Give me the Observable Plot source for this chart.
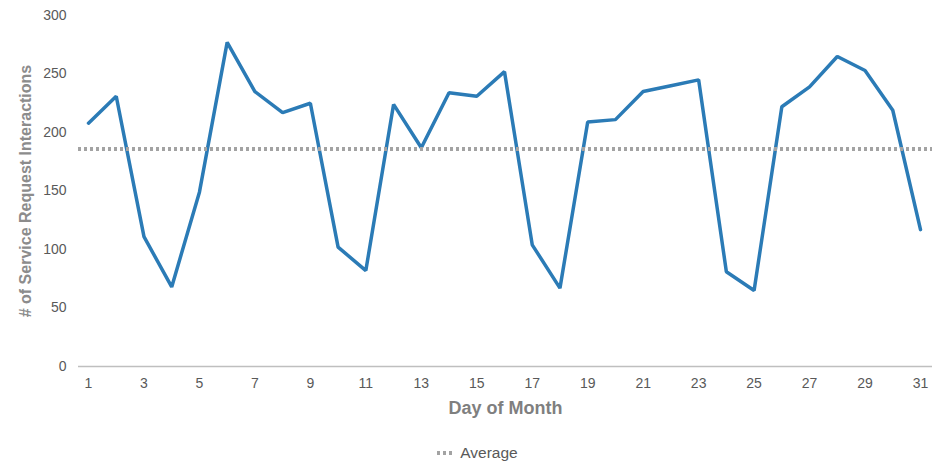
<!DOCTYPE html>
<html>
<head>
<meta charset="utf-8">
<script src="https://cdn.jsdelivr.net/npm/d3@7"></script>
<script src="https://cdn.jsdelivr.net/npm/@observablehq/plot@0.6"></script>
<style>
  body { margin: 0; background: #fff; font-family: "Liberation Sans", Arial, sans-serif; }
  #chart { width: 945px; }
  .legend { display: flex; justify-content: center; align-items: center; gap: 7px; margin-top: 12px; margin-left: 10px; font-size: 15.5px; color: #595959; }
</style>
</head>
<body>
<div id="chart"></div>
<script>
const days = d3.range(1, 32);
const interactions = [208, 231, 111, 68, 149, 277, 235, 217, 225, 102, 82, 224, 187, 234, 231, 252, 104, 67, 209, 211, 235, 240, 245, 81, 65, 222, 239, 265, 253, 219, 117];
const averageValue = 186;
const xTicks = [1, 3, 5, 7, 9, 11, 13, 15, 17, 19, 21, 23, 25, 27, 29, 31];
const yTicks = [0, 50, 100, 150, 200, 250, 300];

const data = days.map((d, i) => ({ day: d, value: interactions[i] }));

const chart = Plot.plot({
  width: 945,
  height: 432,
  marginLeft: 78,
  marginRight: 13,
  marginTop: 15,
  marginBottom: 66,
  style: { fontFamily: "Liberation Sans, Arial, sans-serif", fontSize: "14px", color: "#595959" },
  x: { domain: [1, 31], ticks: xTicks, tickSize: 0, tickPadding: 12, label: null, tickFormat: d => d },
  y: { domain: [0, 300], ticks: yTicks, tickSize: 0, tickPadding: 12, label: null },
  marks: [
    Plot.axisX({ ticks: xTicks, tickSize: 0, tickPadding: 12, label: null, fontSize: 14, fill: "#595959" }),
    Plot.axisY({ ticks: yTicks, tickSize: 0, tickPadding: 12, label: null, fontSize: 14, fill: "#595959" }),
    Plot.ruleY([0], { stroke: "#bfbfbf", strokeWidth: 1.5 }),
    Plot.line(data, { x: "day", y: "value", stroke: "#2b7bb6", strokeWidth: 3.5, strokeLinejoin: "miter", curve: "linear" }),
    Plot.ruleY([averageValue], { stroke: "#a3a3a3", strokeWidth: 4, strokeDasharray: "3,3" }),
    Plot.text(["Day of Month"], { frameAnchor: "bottom", dy: 47, text: d => d, fontSize: 18, fontWeight: "bold", fill: "#7f7f7f" }),
    Plot.text(["# of Service Request Interactions"], { frameAnchor: "left", dx: -53, rotate: -90, textAnchor: "middle", text: d => d, fontSize: 16, fontWeight: "bold", fill: "#8c8c8c" })
  ],
  insetLeft: 10,
  insetRight: 12
});
document.getElementById("chart").appendChild(chart);

const legend = document.createElement("div");
legend.className = "legend";
legend.innerHTML = `<svg width="16" height="6"><line x1="0" y1="3" x2="16" y2="3" stroke="#a3a3a3" stroke-width="4" stroke-dasharray="3,3"/></svg><span>Average</span>`;
document.getElementById("chart").appendChild(legend);
</script>
</body>
</html>
